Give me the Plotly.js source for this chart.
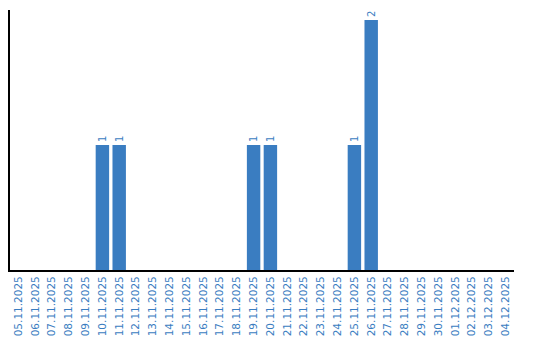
<!DOCTYPE html>
<html><head><meta charset="utf-8">
<script src="https://cdn.plot.ly/plotly-3.0.1.min.js"></script>
<style>html,body{margin:0;padding:0;background:#fff}</style>
</head><body><div id="chart" style="width:540px;height:340px"></div>
<script>
const dates = ["05.11.2025","06.11.2025","07.11.2025","08.11.2025","09.11.2025","10.11.2025","11.11.2025","12.11.2025","13.11.2025","14.11.2025","15.11.2025","16.11.2025","17.11.2025","18.11.2025","19.11.2025","20.11.2025","21.11.2025","22.11.2025","23.11.2025","24.11.2025","25.11.2025","26.11.2025","27.11.2025","28.11.2025","29.11.2025","30.11.2025","01.12.2025","02.12.2025","03.12.2025","04.12.2025"];
const counts = [0,0,0,0,0,1,1,0,0,0,0,0,0,0,1,1,0,0,0,0,1,2,0,0,0,0,0,0,0,0];
const labels = counts.map(v => v > 0 ? String(v) : "");
const blue = "#3a7dc1";
Plotly.newPlot("chart", [{
  type: "bar", x: dates, y: counts, text: labels,
  textposition: "outside", textangle: -90, cliponaxis: false,
  textfont: {family: "DejaVu Sans", size: 10, color: blue},
  marker: {color: blue}, hoverinfo: "none"
}], {
  width: 540, height: 340,
  margin: {l: 10, r: 26, t: 10, b: 70},
  paper_bgcolor: "#fff", plot_bgcolor: "#fff",
  bargap: 0.2, showlegend: false,
  font: {family: "DejaVu Sans"},
  xaxis: {type: "category", tickangle: -90, showline: true, linecolor: "#000", linewidth: 2,
          ticks: "", showgrid: false, tickfont: {family: "DejaVu Sans", size: 10.5, color: blue}},
  yaxis: {range: [0, 2.08], showline: true, linecolor: "#000", linewidth: 2, showgrid: false,
          zeroline: false, showticklabels: false, ticks: ""}
}, {displayModeBar: false, staticPlot: true});
</script></body></html>
